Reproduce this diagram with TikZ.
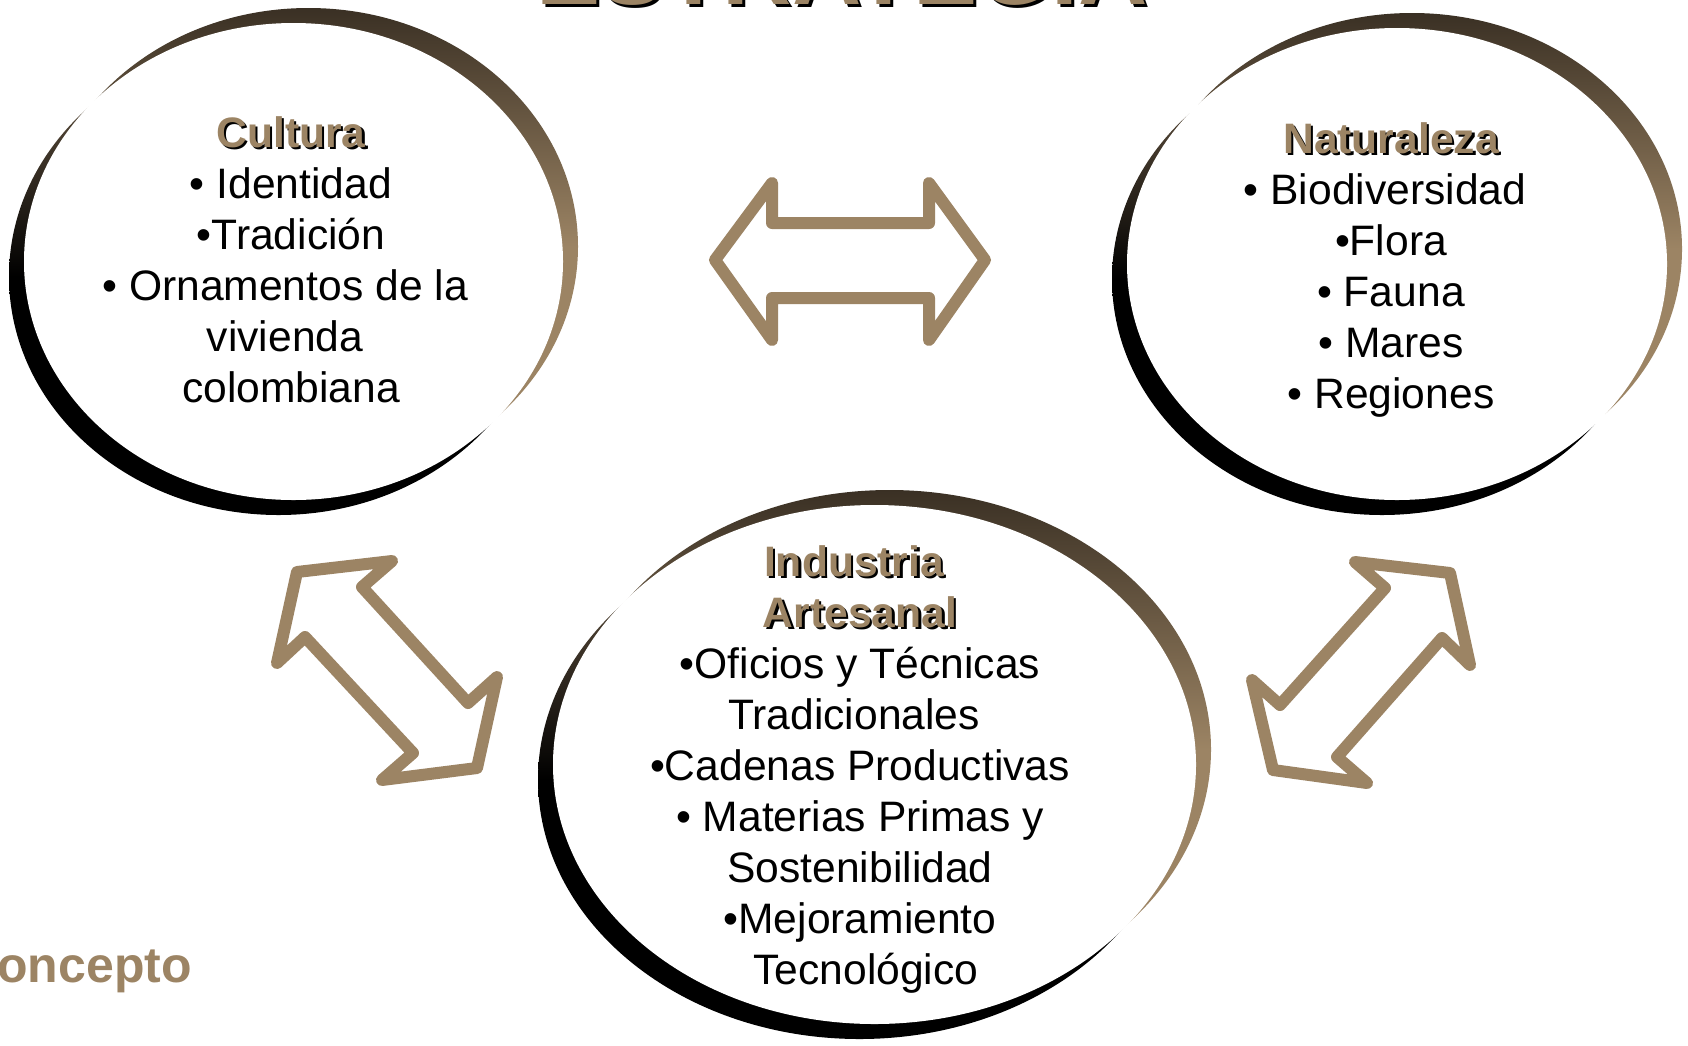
\documentclass[tikz,border=0pt]{standalone}
\usepackage{fontspec}
\setmainfont{Liberation Sans}
\definecolor{brownc}{RGB}{156,132,100}
\definecolor{ringdark}{RGB}{58,48,36}
\definecolor{ringmid}{RGB}{120,101,78}
\newcommand\shtext[2][2.5pt]{\leavevmode\rlap{\kern#1\raisebox{-#1}{\color{black}#2}}{\color{brownc}#2}}
\newcommand\tsp{\makebox[0.278em]{}}
\newcommand\myring[4]{%
  \shade[top color=ringdark, bottom color=brownc, middle color=brownc] (#1+15,#2-15) ellipse [x radius=#3pt, y radius=#4pt];
  \shade[top color=ringmid, bottom color=black, middle color=black] (#1-15,#2+15) ellipse [x radius=#3pt, y radius=#4pt];
  \fill[white] (#1,#2) ellipse [x radius=#3pt, y radius=#4pt];
}
\tikzset{
  txt/.style={font=\fontsize{42.6}{51}\selectfont, align=center, inner sep=0pt, anchor=base},
  arrowbox/.style={draw=brownc, line width=12pt, line join=round}
}
\begin{document}
\begin{tikzpicture}[x=1pt,y=-1pt]
\useasboundingbox (0,0) rectangle (1688,1045);
\clip (0,0) rectangle (1688,1045);
\fill[white] (0,0) rectangle (1688,1045);

% rings
\myring{293.5}{261.5}{269.5}{238.5}
\myring{1397}{264}{270}{236}
\myring{874.5}{764.5}{321.5}{259.5}

% horizontal double arrow
\draw[arrowbox] (715,260) -- (772,183) -- (772,223) -- (929,223) -- (929,183) -- (985,260)
  -- (929,340) -- (929,298) -- (772,298) -- (772,340) -- cycle;
% left diagonal double arrow
\draw[arrowbox] (297,572) -- (392,561) -- (362,587) -- (468,703) -- (497,677) -- (477,768)
  -- (382,780) -- (413,753) -- (305,637) -- (277,663) -- cycle;
% right diagonal double arrow
\draw[arrowbox] (1450,573) -- (1470,665) -- (1442,638) -- (1337,757) -- (1367,783) -- (1273,770)
  -- (1252,680) -- (1280,705) -- (1385,588) -- (1355,562) -- cycle;

% title (cut off at top)
\node[font=\fontsize{96}{100}\selectfont\bfseries, anchor=base, inner sep=0pt] (titulo) at (842,4) {\shtext[3pt]{ESTRATEGIA}};

% texts (base anchor = baseline of last line)
\node[txt] (cultura) at (291,402) {\shtext{\bfseries Cultura}\\
  • Identidad\\
  •Tradición\\
  • Ornamentos de la\tsp\\
  vivienda\tsp\\
  colombiana};

\node[txt] (naturaleza) at (1391,408) {\shtext{\bfseries Naturaleza}\\
  • Biodiversidad\tsp\\
  •Flora\\
  • Fauna\\
  • Mares\\
  • Regiones};

\node[txt] (industria) at (860,984) {\shtext{\bfseries Industria}\tsp\\
  \shtext{\bfseries Artesanal}\\
  •Oficios y Técnicas\\
  Tradicionales\tsp\\
  •Cadenas Productivas\\
  • Materias Primas y\\
  Sostenibilidad\\
  •Mejoramiento\\
  \tsp Tecnológico};

\node[font=\fontsize{50}{60}\selectfont\bfseries, text=brownc, anchor=base east, inner sep=0pt] (concepto) at (192,982) {Concepto};
\end{tikzpicture}
\end{document}
